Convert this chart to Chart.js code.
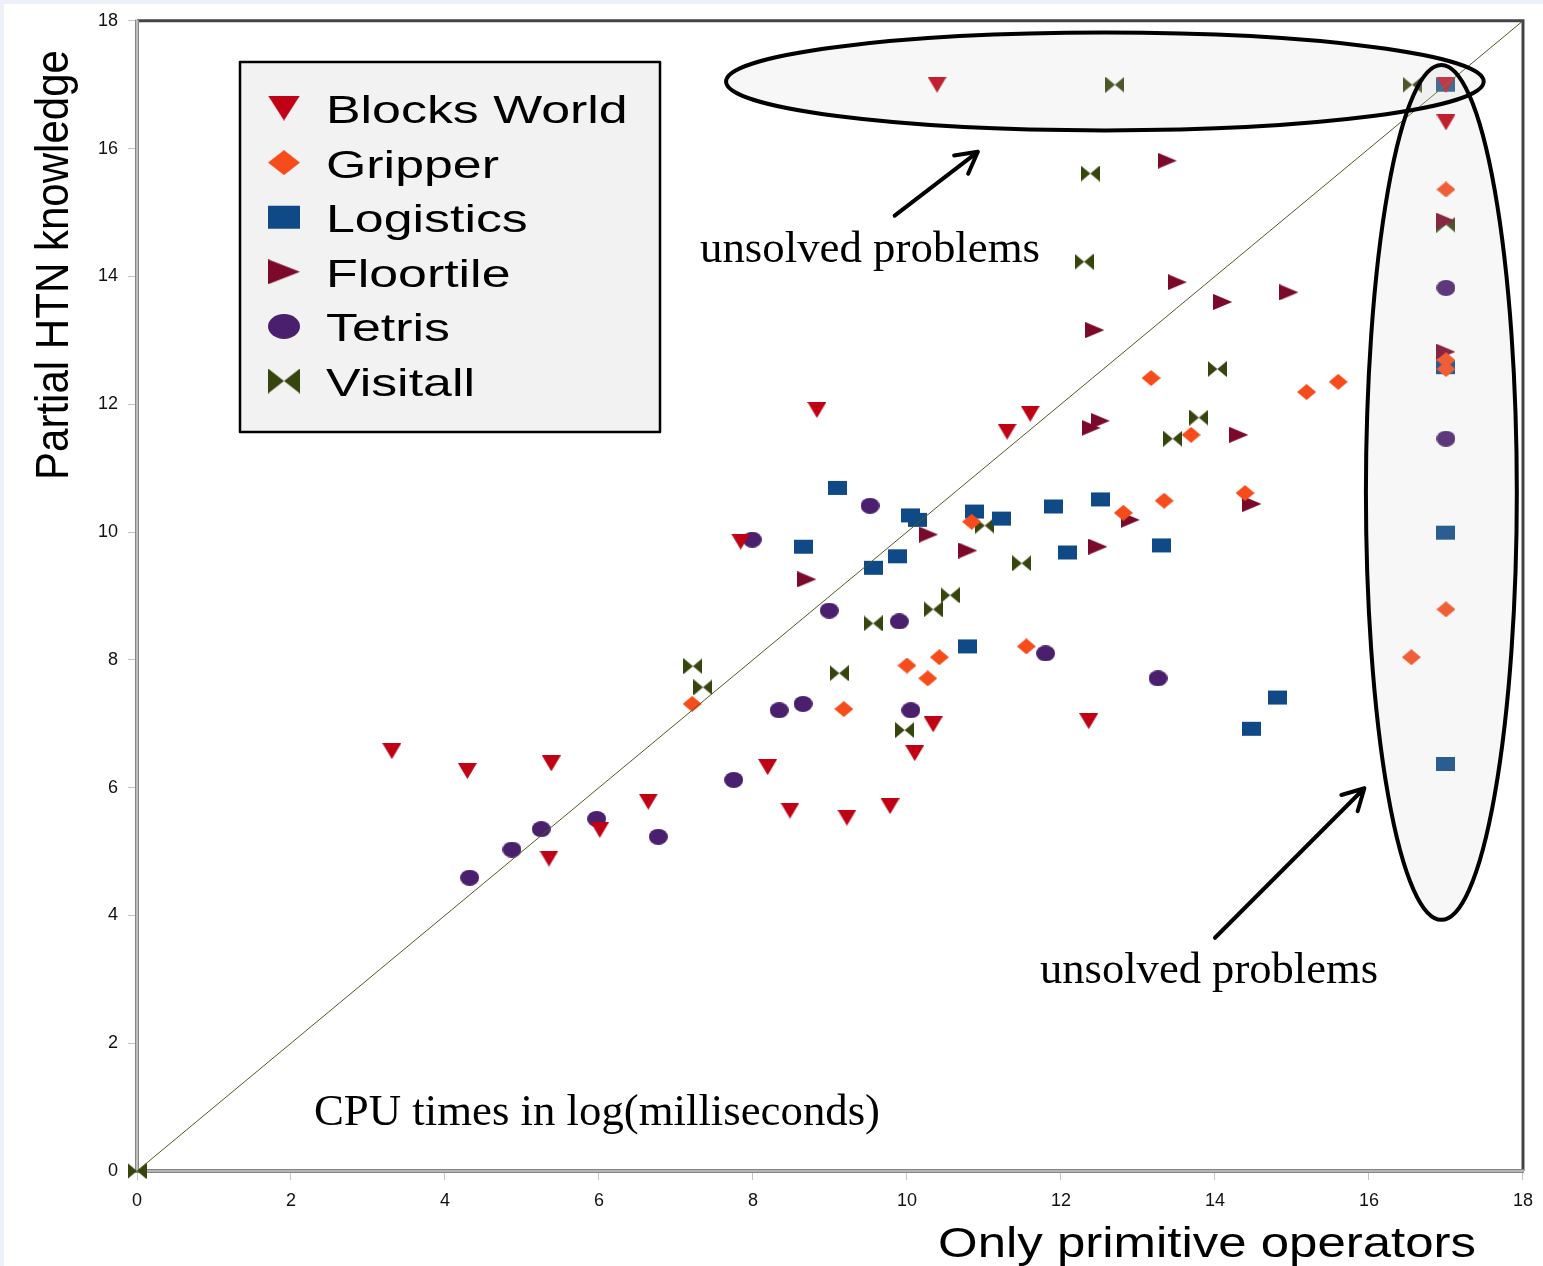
<!DOCTYPE html>
<html>
<head>
<meta charset="utf-8">
<script src="https://cdn.jsdelivr.net/npm/chart.js@4.4.1/dist/chart.umd.min.js"></script>
<style>
  html, body { margin: 0; padding: 0; background: #fff; }
  canvas { display: block; }
</style>
</head>
<body>
<canvas id="chart" width="1543" height="1266"></canvas>
<script>
// values, CPU times in log(ms); 17 = unsolved
const seriesNames = ['Blocks World', 'Gripper', 'Logistics', 'Floortile', 'Tetris', 'Visitall'];

const blocksX = [10.39, 17, 17, 8.83, 11.30, 11.60, 7.84, 3.31, 4.29, 5.38, 6.64, 5.35, 6.01, 8.19, 8.48, 9.22, 9.78, 10.34, 10.10, 12.36];
const blocksY = [17, 17, 16.41, 11.91, 11.57, 11.85, 9.85, 6.57, 6.26, 6.38, 5.78, 4.89, 5.34, 6.32, 5.64, 5.53, 5.71, 6.99, 6.54, 7.04];

const gripperX = [17, 17, 17, 17, 16.55, 13.17, 15.60, 15.19, 13.69, 13.34, 14.39, 12.81, 10.84, 11.55, 10.42, 10.00, 10.27, 9.18, 7.21];
const gripperY = [15.36, 12.69, 12.55, 8.79, 8.04, 12.41, 12.35, 12.19, 11.52, 10.49, 10.61, 10.30, 10.16, 8.21, 8.04, 7.91, 7.71, 7.23, 7.31];

const logisticsX = [17, 17, 17, 17, 14.48, 14.81, 13.31, 9.10, 8.66, 10.05, 10.14, 9.57, 9.88, 10.88, 11.23, 11.90, 12.51, 12.08, 10.79];
const logisticsY = [17, 12.58, 9.99, 6.37, 6.92, 7.41, 9.79, 10.69, 9.77, 10.26, 10.19, 9.44, 9.62, 10.32, 10.21, 10.40, 10.51, 9.68, 8.21];

const floortileX = [12.39, 12.51, 12.44, 13.38, 13.51, 14.10, 14.96, 14.31, 17, 17, 14.48, 10.28, 10.79, 8.70, 12.48, 12.90];
const floortileY = [11.63, 11.74, 13.16, 15.81, 13.91, 13.60, 13.75, 11.52, 14.87, 12.82, 10.44, 9.96, 9.71, 9.26, 9.77, 10.19];

const tetrisX = [17, 17, 13.26, 9.52, 7.99, 8.99, 9.90, 11.80, 8.34, 8.65, 10.05, 7.75, 6.77, 4.32, 4.87, 5.25, 5.97];
const tetrisY = [13.82, 11.46, 7.71, 10.41, 9.88, 8.77, 8.60, 8.10, 7.21, 7.31, 7.21, 6.12, 5.23, 4.59, 5.03, 5.35, 5.51];

const visitallX = [0, 12.70, 12.38, 12.30, 16.56, 17, 14.03, 13.79, 13.45, 11.01, 11.49, 10.56, 10.34, 9.56, 7.22, 7.35, 9.12, 9.97];
const visitallY = [0, 17, 15.61, 14.23, 17, 14.81, 12.55, 11.79, 11.46, 10.10, 9.51, 9.01, 8.79, 8.57, 7.90, 7.57, 7.79, 6.90];

const diagX = [0, 18];
const diagY = [0, 18];

const tickValues = [0, 2, 4, 6, 8, 10, 12, 14, 16, 18];

const colors = ['#c00014', '#f64c1c', '#0f4a87', '#7b0a2a', '#4a1f6e', '#36440e'];
const shapes = ['down', 'diamond', 'square', 'right', 'circle', 'bowtie'];

function pts(xs, ys) {
  return xs.map((x, i) => ({ x: x, y: ys[i] }));
}

// little canvas markers, the source draws them a bit wider than tall
function marker(shape, color, w, h) {
  const c = document.createElement('canvas');
  c.width = w; c.height = h;
  const g = c.getContext('2d');
  g.fillStyle = color;
  g.beginPath();
  if (shape === 'down') {
    g.moveTo(0, 0); g.lineTo(w, 0); g.lineTo(w / 2, h); g.closePath();
  } else if (shape === 'right') {
    g.moveTo(0, 0); g.lineTo(w, h / 2); g.lineTo(0, h); g.closePath();
  } else if (shape === 'diamond') {
    g.moveTo(w / 2, 0); g.lineTo(w, h / 2); g.lineTo(w / 2, h); g.lineTo(0, h / 2); g.closePath();
  } else if (shape === 'square') {
    g.rect(0, 1, w, h - 2);
  } else if (shape === 'circle') {
    g.ellipse(w / 2, h / 2, w / 2, h / 2, 0, 0, Math.PI * 2);
  } else {
    g.moveTo(0, 0); g.lineTo(w / 2, h / 2); g.lineTo(0, h); g.closePath();
    g.moveTo(w, 0); g.lineTo(w / 2, h / 2); g.lineTo(w, h); g.closePath();
  }
  g.fill();
  return c;
}

const allX = [blocksX, gripperX, logisticsX, floortileX, tetrisX, visitallX];
const allY = [blocksY, gripperY, logisticsY, floortileY, tetrisY, visitallY];

const datasets = seriesNames.map((name, i) => ({
  label: name,
  data: pts(allX[i], allY[i]),
  pointStyle: marker(shapes[i], colors[i], 19, 16),
  backgroundColor: colors[i],
  borderColor: colors[i],
  showLine: false,
  clip: false
}));

datasets.push({
  type: 'line',
  label: 'diagonal',
  data: pts(diagX, diagY),
  borderColor: '#4f5a23',
  borderWidth: 1,
  pointRadius: 0,
  order: -1
});

// annotation shapes, in axis units
const topEllipse = { cx: 12.57, cy: 17.05, rx: 4.92, ry: 0.765 };
const rightEllipse = { cx: 16.94, cy: 10.62, rx: 0.98, ry: 6.69 };
const topArrow = { x1: 9.84, y1: 14.95, x2: 10.92, y2: 15.95 };
const rightArrow = { x1: 14.0, y1: 3.65, x2: 15.94, y2: 5.99 };

function fitText(ctx, text, x, y, width, font, align) {
  ctx.save();
  ctx.font = font;
  const w = ctx.measureText(text).width;
  const sx = width / w;
  ctx.translate(x, y);
  ctx.scale(sx, 1);
  ctx.textAlign = align || 'left';
  ctx.fillText(text, 0, 0);
  ctx.restore();
}

function arrow(ctx, x1, y1, x2, y2) {
  const a = Math.atan2(y2 - y1, x2 - x1);
  const len = 24;
  ctx.beginPath();
  ctx.moveTo(x1, y1); ctx.lineTo(x2, y2);
  ctx.moveTo(x2 - len * Math.cos(a - 0.5), y2 - len * Math.sin(a - 0.5));
  ctx.lineTo(x2, y2);
  ctx.lineTo(x2 - len * Math.cos(a + 0.5), y2 - len * Math.sin(a + 0.5));
  ctx.stroke();
}

const decor = {
  id: 'decor',
  beforeDraw(chart) {
    const ctx = chart.ctx;
    ctx.save();
    ctx.fillStyle = '#fff';
    ctx.fillRect(0, 0, chart.width, chart.height);
    ctx.fillStyle = '#eef0f8';
    ctx.fillRect(0, 0, chart.width, 4);
    ctx.fillRect(0, 0, 4, chart.height);
    ctx.restore();
  },
  beforeDatasetsDraw(chart) {
    const ctx = chart.ctx;
    const a = chart.chartArea;
    ctx.save();
    // top and right frame
    ctx.strokeStyle = '#444';
    ctx.lineWidth = 3;
    ctx.beginPath();
    ctx.moveTo(a.left, a.top); ctx.lineTo(a.right, a.top); ctx.lineTo(a.right, a.bottom);
    ctx.stroke();
    // left and bottom axis, double line
    ctx.strokeStyle = '#858585';
    ctx.lineWidth = 4;
    ctx.beginPath();
    ctx.moveTo(a.left, a.top - 1); ctx.lineTo(a.left, a.bottom); ctx.lineTo(a.right + 1, a.bottom);
    ctx.stroke();
    ctx.strokeStyle = '#e4e4e4';
    ctx.lineWidth = 1.2;
    ctx.stroke();
    ctx.restore();
  },
  afterDatasetsDraw(chart) {
    const ctx = chart.ctx;
    const xs = chart.scales.x, ys = chart.scales.y;
    const px = v => xs.getPixelForValue(v);
    const py = v => ys.getPixelForValue(v);
    const ell = [topEllipse, rightEllipse].map(e => ({
      cx: px(e.cx), cy: py(e.cy),
      rx: px(e.cx + e.rx) - px(e.cx), ry: py(e.cy - e.ry) - py(e.cy)
    }));
    ctx.save();
    ctx.fillStyle = 'rgba(200,200,200,0.15)';
    ell.forEach(e => {
      ctx.beginPath(); ctx.ellipse(e.cx, e.cy, e.rx, e.ry, 0, 0, Math.PI * 2); ctx.fill();
    });
    ctx.strokeStyle = '#000';
    ctx.lineWidth = 4;
    ell.forEach(e => {
      ctx.beginPath(); ctx.ellipse(e.cx, e.cy, e.rx, e.ry, 0, 0, Math.PI * 2); ctx.stroke();
    });

    ctx.lineCap = 'round';
    ctx.lineJoin = 'round';
    arrow(ctx, px(topArrow.x1), py(topArrow.y1), px(topArrow.x2), py(topArrow.y2));
    arrow(ctx, px(rightArrow.x1), py(rightArrow.y1), px(rightArrow.x2), py(rightArrow.y2));

    ctx.fillStyle = '#000';
    ctx.textBaseline = 'alphabetic';
    fitText(ctx, 'unsolved problems', 700, 262, 340, '45px "Liberation Serif"');
    fitText(ctx, 'unsolved problems', 1040, 983, 338, '45px "Liberation Serif"');
    fitText(ctx, 'CPU times in log(milliseconds)', 314, 1125, 566, '45px "Liberation Serif"');

    // legend box
    ctx.fillStyle = '#f2f2f2';
    ctx.fillRect(240, 62, 420, 370);
    ctx.strokeStyle = '#000';
    ctx.lineWidth = 2.5;
    ctx.strokeRect(240, 62, 420, 370);
    seriesNames.forEach((name, i) => {
      const cy = 108 + i * 54.6;
      const m = marker(shapes[i], colors[i], 32, 25);
      ctx.drawImage(m, 284 - 16, cy - 12.5);
      ctx.fillStyle = '#000';
      ctx.save();
      ctx.font = '39px "Liberation Sans"';
      ctx.translate(326, cy + 15);
      ctx.scale(1.33, 1);
      ctx.fillText(name, 0, 0);
      ctx.restore();
    });

    // axis titles
    ctx.fillStyle = '#000';
    fitText(ctx, 'Only primitive operators', 938, 1257, 538, '42px "Liberation Sans"');
    ctx.save();
    ctx.font = '40px "Liberation Sans"';
    const tw = ctx.measureText('Partial HTN knowledge').width;
    ctx.translate(68, 265);
    ctx.rotate(-Math.PI / 2);
    ctx.scale(430 / tw, 1.15);
    ctx.textAlign = 'center';
    ctx.fillText('Partial HTN knowledge', 0, 0);
    ctx.restore();
    ctx.restore();
  }
};

const axisBase = {
  type: 'linear',
  min: 0,
  max: 18,
  afterBuildTicks: s => { s.ticks = tickValues.map(v => ({ value: v })); },
  ticks: {
    font: { family: 'Liberation Sans', size: 18 },
    color: '#111',
    padding: 10,
    maxRotation: 0
  },
  grid: { drawOnChartArea: false, drawTicks: true, tickLength: 9, color: '#c4c4c4' },
  border: { display: false }
};

new Chart(document.getElementById('chart').getContext('2d'), {
  type: 'scatter',
  data: { datasets: datasets },
  options: {
    responsive: false,
    animation: false,
    layout: { padding: { top: 18, right: 20, left: 0, bottom: 0 } },
    plugins: { legend: { display: false }, tooltip: { enabled: false } },
    scales: {
      x: Object.assign({}, axisBase, { position: 'bottom', afterFit: s => { s.height = 95; } }),
      y: Object.assign({}, axisBase, { position: 'left', afterFit: s => { s.width = 137; } })
    }
  },
  plugins: [decor]
});
</script>
</body>
</html>
